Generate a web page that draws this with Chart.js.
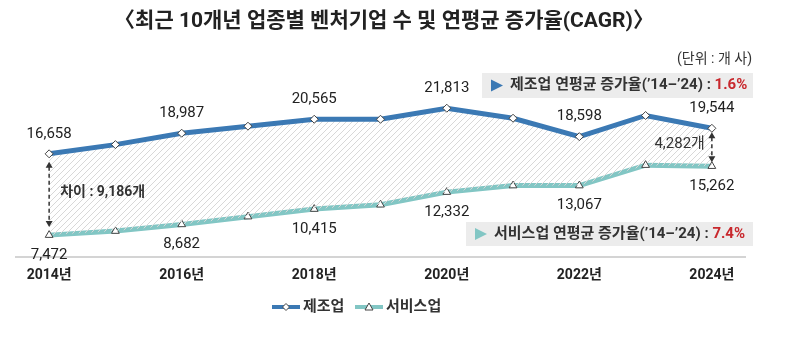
<!DOCTYPE html>
<html lang="ko">
<head>
<meta charset="utf-8">
<title>최근 10개년 업종별 벤처기업 수 및 연평균 증가율(CAGR)</title>
<script src="https://cdn.jsdelivr.net/npm/chart.js@4"></script>
<style>
  html, body { margin: 0; padding: 0; background: #fff; }
  #wrap { width: 800px; height: 338px; position: relative; }
</style>
</head>
<body>
<div id="wrap"><canvas id="ventureChart"></canvas></div>
<script>
const years = [2014, 2015, 2016, 2017, 2018, 2019, 2020, 2021, 2022, 2023, 2024];
const manufacturing = [16658, 17700, 18987, 19780, 20565, 20560, 21813, 20680, 18598, 20990, 19544];
const services = [7472, 7930, 8682, 9560, 10415, 10900, 12332, 13067, 13067, 15380, 15262];
const seriesNames = ["제조업", "서비스업"];
const gapLabels = ["차이 : 9,186개", "4,282개"];
const cagrNames = ["제조업 연평균 증가율(’14–’24) : ", "서비스업 연평균 증가율(’14–’24) : "];
const cagrValues = ["1.6%", "7.4%"];

const FONT = "Roboto, 'Noto Sans CJK KR', sans-serif";
const BLUE = "#3b79b4";
const TEAL = "#82c6c4";
const RED = "#c8282d";

// diagonal hatch for the band between the two lines
function makeHatch() {
  const c = document.createElement("canvas");
  c.width = 6; c.height = 6;
  const g = c.getContext("2d");
  g.strokeStyle = "#d8d8d8";
  g.lineWidth = 1;
  g.beginPath();
  g.moveTo(0, 6); g.lineTo(6, 0);
  g.moveTo(-1, 1); g.lineTo(1, -1);
  g.moveTo(5, 7); g.lineTo(7, 5);
  g.stroke();
  return g.createPattern(c, "repeat");
}

function drawArrow(ctx, x, y1, y2) {
  ctx.save();
  ctx.strokeStyle = "#333";
  ctx.fillStyle = "#333";
  ctx.lineWidth = 1.5;
  ctx.setLineDash([4, 3]);
  ctx.beginPath();
  ctx.moveTo(x, y1 + 5);
  ctx.lineTo(x, y2 - 5);
  ctx.stroke();
  ctx.setLineDash([]);
  ctx.beginPath();
  ctx.moveTo(x, y1); ctx.lineTo(x - 3.5, y1 + 6); ctx.lineTo(x + 3.5, y1 + 6); ctx.closePath();
  ctx.moveTo(x, y2); ctx.lineTo(x - 3.5, y2 - 6); ctx.lineTo(x + 3.5, y2 - 6); ctx.closePath();
  ctx.fill();
  ctx.restore();
}

function drawCagrBox(ctx, x, y, w, h, color, name, value) {
  ctx.save();
  ctx.fillStyle = "#ececec";
  ctx.fillRect(x, y, w, h);
  const cy = y + h / 2;
  ctx.fillStyle = color;
  ctx.beginPath();
  ctx.moveTo(x + 9, cy - 6); ctx.lineTo(x + 21, cy); ctx.lineTo(x + 9, cy + 6); ctx.closePath();
  ctx.fill();
  ctx.font = "bold 15px " + FONT;
  ctx.textBaseline = "middle";
  ctx.textAlign = "left";
  ctx.fillStyle = "#333";
  ctx.fillText(name, x + 28, cy);
  const nw = ctx.measureText(name).width;
  ctx.fillStyle = RED;
  ctx.fillText(value, x + 28 + nw, cy);
  ctx.restore();
}

function drawMarker(ctx, style, x, y, r) {
  ctx.save();
  ctx.fillStyle = "#fff";
  ctx.strokeStyle = "#444";
  ctx.lineWidth = 1;
  ctx.beginPath();
  if (style === "rectRot") {
    ctx.moveTo(x, y - r); ctx.lineTo(x + r, y); ctx.lineTo(x, y + r); ctx.lineTo(x - r, y);
  } else {
    ctx.moveTo(x, y - r); ctx.lineTo(x + r, y + r * 0.75); ctx.lineTo(x - r, y + r * 0.75);
  }
  ctx.closePath();
  ctx.fill();
  ctx.stroke();
  ctx.restore();
}

const decorations = {
  id: "decorations",
  afterDatasetsDraw(chart) {
    const ctx = chart.ctx;
    const m = chart.getDatasetMeta(0).data;
    const s = chart.getDatasetMeta(1).data;

    // value labels on the even years
    ctx.save();
    ctx.font = "15px " + FONT;
    ctx.fillStyle = "#222";
    ctx.textAlign = "center";
    ctx.textBaseline = "middle";
    years.forEach((yr, i) => {
      if (i % 2) return;
      ctx.fillText(manufacturing[i].toLocaleString("en-US"), m[i].x, m[i].y - 20);
      ctx.fillText(services[i].toLocaleString("en-US"), s[i].x, s[i].y + 20);
    });
    ctx.restore();

    // gap arrows at first and last year
    const last = years.length - 1;
    drawArrow(ctx, m[0].x, m[0].y + 8, s[0].y - 8);
    drawArrow(ctx, m[last].x, m[last].y + 4, s[last].y - 4);
    ctx.save();
    ctx.fillStyle = "#333";
    ctx.textBaseline = "middle";
    ctx.font = "bold 14px " + FONT;
    ctx.textAlign = "left";
    ctx.fillText(gapLabels[0], m[0].x + 11, 192);
    ctx.font = "15px " + FONT;
    ctx.textAlign = "right";
    ctx.fillText(gapLabels[1], m[last].x - 7, 144);
    ctx.restore();

    drawCagrBox(ctx, 482, 73, 271, 25, BLUE, cagrNames[0], cagrValues[0]);
    drawCagrBox(ctx, 466, 222, 287, 24, TEAL, cagrNames[1], cagrValues[1]);

    // title and unit
    ctx.save();
    ctx.textAlign = "center";
    ctx.textBaseline = "middle";
    ctx.fillStyle = "#222";
    ctx.font = "bold 21px " + FONT;
    ctx.fillText("〈최근 10개년 업종별 벤처기업 수 및 연평균 증가율(CAGR)〉", 384, 22);
    ctx.font = "14px " + FONT;
    ctx.fillStyle = "#333";
    ctx.textAlign = "right";
    ctx.fillText("(단위 : 개 사)", 752, 59);
    ctx.restore();

    // legend
    const items = [
      { x: 272, color: BLUE, style: "rectRot", r: 3.5 },
      { x: 355, color: TEAL, style: "triangle", r: 4 }
    ];
    ctx.save();
    items.forEach((it, i) => {
      ctx.strokeStyle = it.color;
      ctx.lineWidth = 4;
      ctx.beginPath();
      ctx.moveTo(it.x, 307); ctx.lineTo(it.x + 28, 307);
      ctx.stroke();
      drawMarker(ctx, it.style, it.x + 14, 307, it.r);
      ctx.font = "bold 15px " + FONT;
      ctx.fillStyle = "#333";
      ctx.textAlign = "left";
      ctx.textBaseline = "middle";
      ctx.fillText(seriesNames[i], it.x + 31, 307);
    });
    ctx.restore();
  }
};

const ctx = document.getElementById("ventureChart");
new Chart(ctx, {
  type: "line",
  data: {
    labels: years,
    datasets: [
      {
        label: seriesNames[0],
        data: manufacturing,
        borderColor: BLUE,
        borderWidth: 5,
        backgroundColor: makeHatch(),
        fill: "+1",
        tension: 0,
        pointStyle: "rectRot",
        pointRadius: 4,
        pointBackgroundColor: "#fff",
        pointBorderColor: "#444",
        pointBorderWidth: 1
      },
      {
        label: seriesNames[1],
        data: services,
        borderColor: TEAL,
        borderWidth: 5,
        fill: false,
        tension: 0,
        pointStyle: "triangle",
        pointRadius: 4.5,
        pointBackgroundColor: "#fff",
        pointBorderColor: "#444",
        pointBorderWidth: 1
      }
    ]
  },
  options: {
    responsive: true,
    maintainAspectRatio: false,
    animation: false,
    layout: { padding: { top: 80, bottom: 51, left: 16, right: 55 } },
    plugins: {
      legend: { display: false },
      title: { display: false },
      tooltip: { enabled: false }
    },
    scales: {
      x: {
        offset: true,
        afterFit: (scale) => { scale.height = 30; },
        grid: { display: false, drawTicks: false },
        border: { display: true, color: "#d4d4d4", width: 2 },
        ticks: {
          padding: 10,
          autoSkip: false,
          maxRotation: 0,
          color: "#222",
          font: { family: FONT, size: 14, weight: "bold" },
          callback: (v, i) => (i % 2 ? "" : years[i] + "년")
        }
      },
      y: {
        display: false,
        min: 5000,
        max: 25000
      }
    }
  },
  plugins: [decorations]
});
</script>
</body>
</html>
